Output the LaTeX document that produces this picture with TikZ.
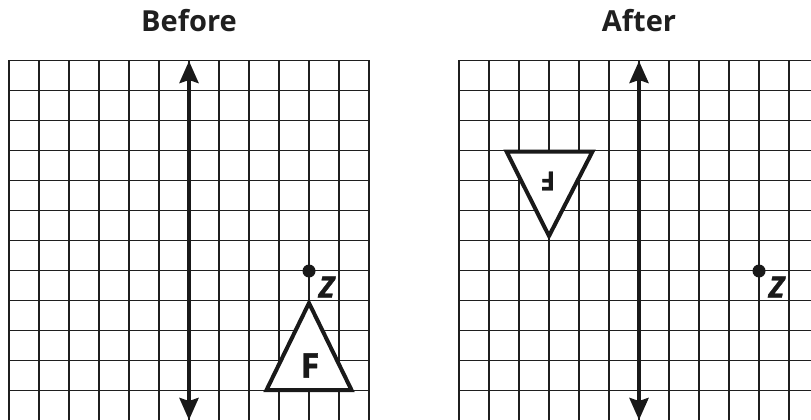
\documentclass[tikz,border=0pt]{standalone}
\usepackage{fontspec}
\setmainfont{Open Sans}
\newfontfamily\heavyfont{Open Sans}[BoldFeatures={FakeBold=1.2},BoldItalicFeatures={FakeBold=1.2}]
\usetikzlibrary{arrows.meta}
\begin{document}
\begin{tikzpicture}[x=1pt,y=-1pt,
  gridline/.style={line width=1.4pt, draw=black!88, line cap=rect},
  mirror/.style={line width=4pt, draw=black!90,
    {Stealth[length=22pt,width=19pt,inset=3pt]}-{Stealth[length=22pt,width=19pt,inset=3pt]}},
  tri/.style={line width=4pt, draw=black!90, fill=white, line join=miter},
  title/.style={font=\fontsize{29}{31}\selectfont\bfseries, anchor=base, inner sep=0pt, text=black!88},
  dot/.style={circle, fill=black!90, inner sep=0pt, minimum size=13pt},
  zlabel/.style={font=\heavyfont\fontsize{29}{31}\selectfont\bfseries\itshape, inner sep=0pt, text=black!90},
  flabel/.style={font=\heavyfont\fontsize{34}{36}\selectfont\bfseries, inner sep=0pt, text=black!90}
]
\useasboundingbox (0,0) rectangle (811,420);
\clip (0,0) rectangle (811,420);
\fill[white] (0,0) rectangle (811,420);

% grids
\foreach \ox in {9,459}{
  \foreach \i in {0,...,12}{
    \draw[gridline] ({\ox+30*\i},60.7) -- ({\ox+30*\i},421);
    \draw[gridline] (\ox,{60.7+30*\i}) -- ({\ox+360},{60.7+30*\i});
  }
}

% titles
\node[title] (tb) at (189,32) {Before};
\node[title] (ta) at (639,32) {After};

% mirror lines
\coordinate (Ltop) at (189,61);
\coordinate (Lbot) at (189,420);
\coordinate (Rtop) at (639,61);
\coordinate (Rbot) at (639,420);
\draw[mirror] (Ltop) -- (Lbot);
\draw[mirror] (Rtop) -- (Rbot);

% before triangle
\coordinate (b1) at (309,303);
\coordinate (b2) at (266.5,390);
\coordinate (b3) at (351.5,390);
\draw[tri] (b1) -- (b2) -- (b3) -- cycle;
\node[flabel] (fb) at (310,365.5) {F};

% after triangle
\coordinate (a1) at (549,236);
\coordinate (a2) at (506.5,151.5);
\coordinate (a3) at (592.5,151.5);
\draw[tri] (a1) -- (a2) -- (a3) -- cycle;
\node[flabel, font=\heavyfont\fontsize{26}{28}\selectfont\bfseries, rotate=180] (fa) at (548,181) {F};

% points Z
\node[dot] (zb) at (309,271) {};
\node[dot] (za) at (759,271) {};
\node[zlabel] (lzb) at (326.5,287) {Z};
\node[zlabel] (lza) at (776.5,287) {Z};
\end{tikzpicture}
\end{document}
